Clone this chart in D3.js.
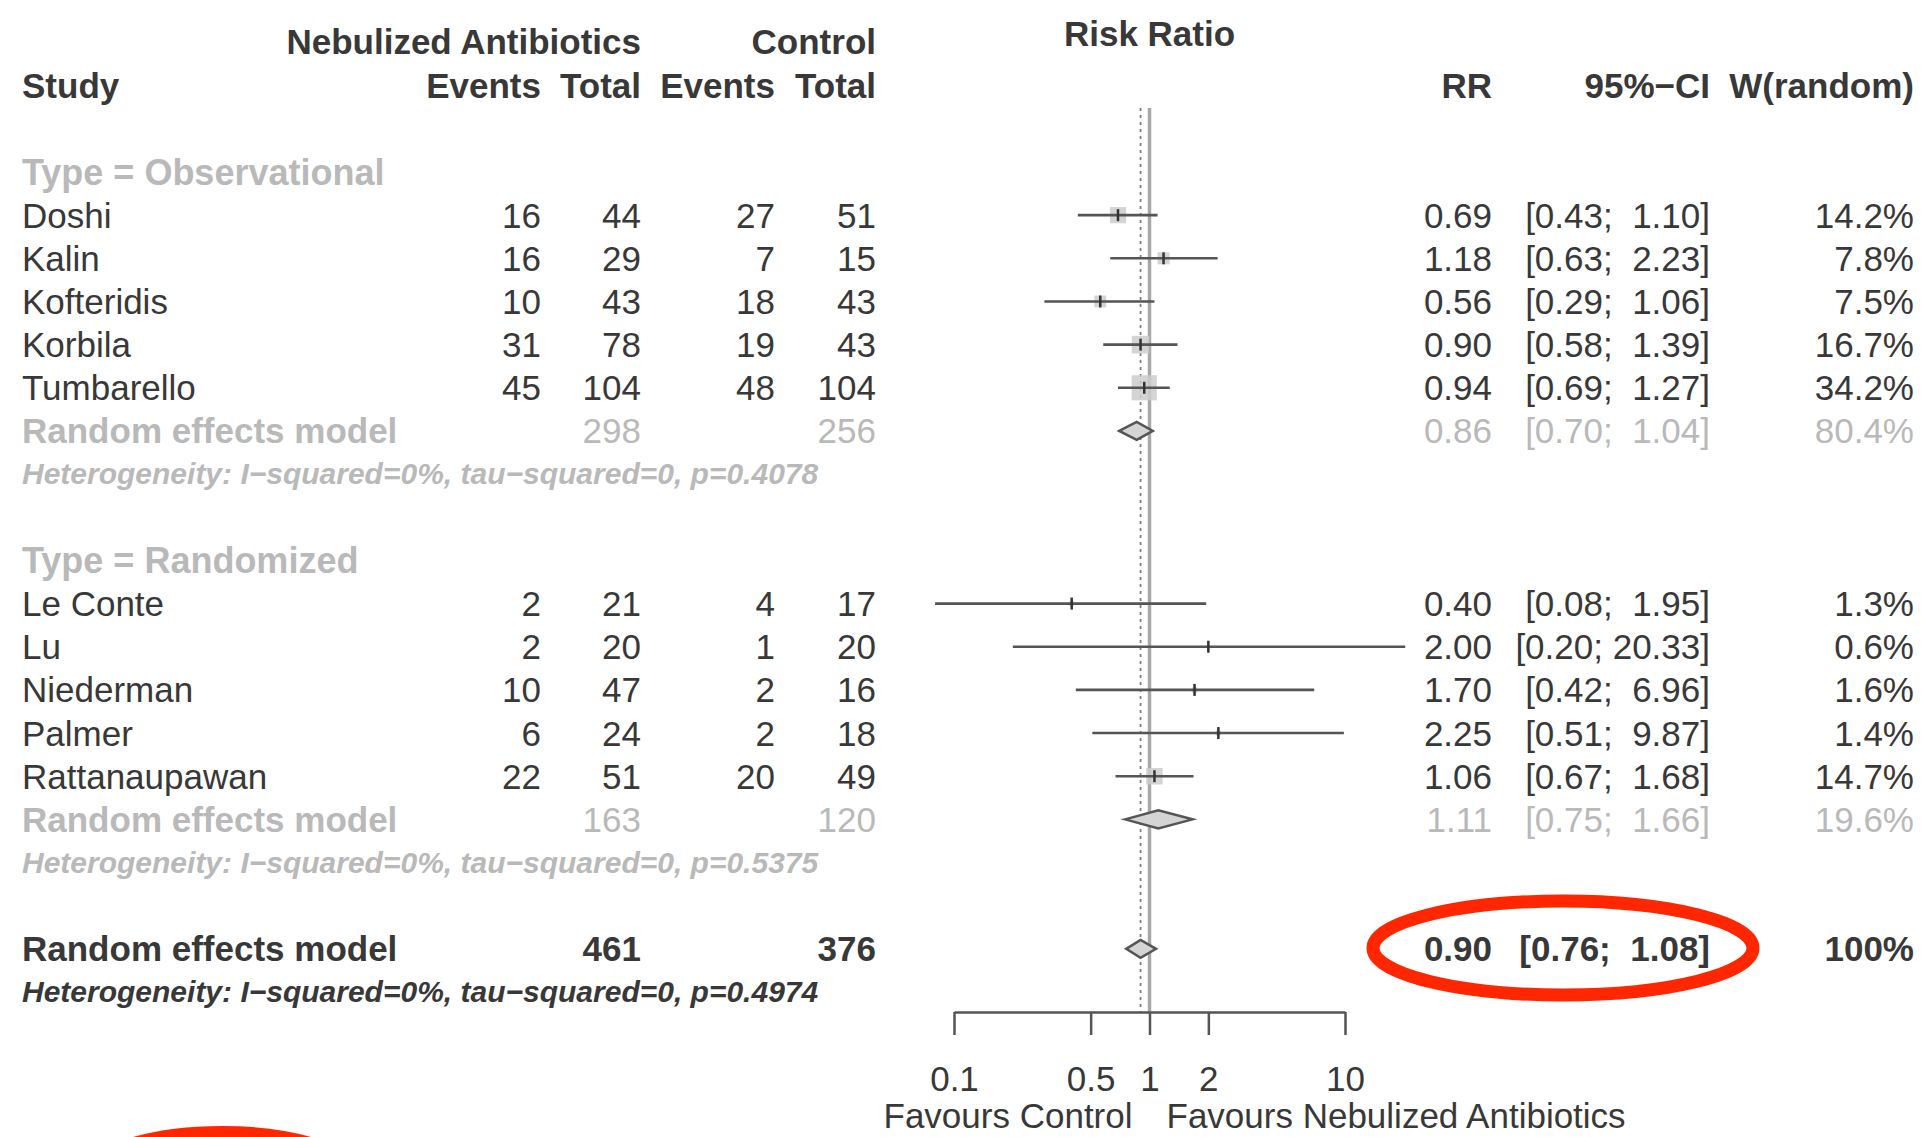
<!DOCTYPE html>
<html>
<head>
<meta charset="utf-8">
<script src="https://cdn.jsdelivr.net/npm/d3@7/dist/d3.min.js"></script>
<style>
  html, body { margin: 0; padding: 0; background: #fff; }
  svg { display: block; }
  text { font-family: "Liberation Sans", Arial, Helvetica, sans-serif; white-space: pre; }
</style>
</head>
<body>
<script>
// ---------------- data ----------------
const studies   = ["Doshi","Kalin","Kofteridis","Korbila","Tumbarello","Le Conte","Lu","Niederman","Palmer","Rattanaupawan"];
const studyType = ["Observational","Observational","Observational","Observational","Observational","Randomized","Randomized","Randomized","Randomized","Randomized"];
const eventsNeb = [16,16,10,31,45,2,2,10,6,22];
const totalNeb  = [44,29,43,78,104,21,20,47,24,51];
const eventsCtl = [27,7,18,19,48,4,1,2,2,20];
const totalCtl  = [51,15,43,43,104,17,20,16,18,49];
const rr        = [0.69,1.18,0.56,0.90,0.94,0.40,2.00,1.70,2.25,1.06];
const ciLow     = [0.43,0.63,0.29,0.58,0.69,0.08,0.20,0.42,0.51,0.67];
const ciHigh    = [1.10,2.23,1.06,1.39,1.27,1.95,20.33,6.96,9.87,1.68];
const weight    = [14.2,7.8,7.5,16.7,34.2,1.3,0.6,1.6,1.4,14.7];

const subgroups  = ["Observational","Randomized"];
const subTotNeb  = [298,163];
const subTotCtl  = [256,120];
const subRR      = [0.86,1.11];
const subLow     = [0.70,0.75];
const subHigh    = [1.04,1.66];
const subWeight  = [80.4,19.6];
const subHetP    = ["0.4078","0.5375"];

const overallTotNeb = 461, overallTotCtl = 376;
const overallRR = 0.90, overallLow = 0.76, overallHigh = 1.08, overallHetP = "0.4974";

const tickValues = [0.1,0.5,1,2,10];
const tickLabels = ["0.1","0.5","1","2","10"];

// ---------------- layout ----------------
const W = 1921, H = 1137;
const svg = d3.select("body").append("svg").attr("width", W).attr("height", H);

const FS = 35;
const dark = "#383838", light = "#b9b9b9";
const colX = { study: 22, evN: 541, totN: 641, evC: 775, totC: 876, rr: 1492, ci: 1710, w: 1914 };

const x = d3.scaleLog().domain([0.1, 10]).range([954, 1345]);
const y = d3.scaleLinear().domain([0, 19]).range([172, 992]);
const BL = 12.5; // baseline offset from row centre

const f2 = d3.format(".2f");
function ciText(lo, hi) {
  const a = f2(lo), b = f2(hi);
  return "[" + a + ";" + (b.length < 5 ? "  " : " ") + b + "]";
}
function pct(v) { return d3.format(".1f")(v) + "%"; }

function txt(xp, yp, s, opt = {}) {
  return svg.append("text")
    .attr("x", xp).attr("y", yp)
    .attr("text-anchor", opt.anchor || "start")
    .attr("font-size", opt.size || FS)
    .attr("font-weight", opt.bold ? "bold" : "normal")
    .attr("font-style", opt.italic ? "italic" : "normal")
    .attr("fill", opt.color || dark)
    .text(s);
}

// ---------------- headers ----------------
txt(colX.totN, 54, "Nebulized Antibiotics", { anchor: "end", bold: true });
txt(colX.totC, 54, "Control", { anchor: "end", bold: true });
txt(x(1), 46, "Risk Ratio", { anchor: "middle", bold: true });
txt(colX.study, 98, "Study", { bold: true });
txt(colX.evN, 98, "Events", { anchor: "end", bold: true });
txt(colX.totN, 98, "Total", { anchor: "end", bold: true });
txt(colX.evC, 98, "Events", { anchor: "end", bold: true });
txt(colX.totC, 98, "Total", { anchor: "end", bold: true });
txt(colX.rr, 98, "RR", { anchor: "end", bold: true });
txt(colX.ci, 98, "95%−CI", { anchor: "end", bold: true });
txt(colX.w, 98, "W(random)", { anchor: "end", bold: true });

// ---------------- reference lines ----------------
const plotTop = 108, axisY = 1012;
svg.append("line")
  .attr("x1", x(1)).attr("x2", x(1)).attr("y1", plotTop).attr("y2", axisY)
  .attr("stroke", "#a8a8a8").attr("stroke-width", 3.5);
svg.append("line")
  .attr("x1", x(overallRR)).attr("x2", x(overallRR)).attr("y1", plotTop).attr("y2", axisY)
  .attr("stroke", "#808080").attr("stroke-width", 1.8).attr("stroke-dasharray", "3,4");

// ---------------- rows ----------------
let row = 0;
subgroups.forEach((g, gi) => {
  txt(colX.study, y(row) + BL, "Type = " + g, { bold: true, color: light, size: 36 });
  row++;
  studies.forEach((s, i) => {
    if (studyType[i] !== g) return;
    const yc = y(row), yb = yc + BL;
    txt(colX.study, yb, s);
    txt(colX.evN, yb, eventsNeb[i], { anchor: "end" });
    txt(colX.totN, yb, totalNeb[i], { anchor: "end" });
    txt(colX.evC, yb, eventsCtl[i], { anchor: "end" });
    txt(colX.totC, yb, totalCtl[i], { anchor: "end" });
    txt(colX.rr, yb, f2(rr[i]), { anchor: "end" });
    txt(colX.ci, yb, ciText(ciLow[i], ciHigh[i]), { anchor: "end" });
    txt(colX.w, yb, pct(weight[i]), { anchor: "end" });

    const side = 4.3 * Math.sqrt(weight[i]);
    svg.append("rect")
      .attr("x", x(rr[i]) - side / 2).attr("y", yc - side / 2)
      .attr("width", side).attr("height", side)
      .attr("fill", "#cdcdcd").attr("opacity", 0.85);
    svg.append("line")
      .attr("x1", x(ciLow[i])).attr("x2", x(ciHigh[i])).attr("y1", yc).attr("y2", yc)
      .attr("stroke", "#555").attr("stroke-width", 2.6);
    svg.append("line")
      .attr("x1", x(rr[i])).attr("x2", x(rr[i])).attr("y1", yc - 6).attr("y2", yc + 6)
      .attr("stroke", "#333").attr("stroke-width", 2.5);
    row++;
  });
  // subgroup summary
  const yc = y(row), yb = yc + BL;
  txt(colX.study, yb, "Random effects model", { bold: true, color: light });
  txt(colX.totN, yb, subTotNeb[gi], { anchor: "end", color: light });
  txt(colX.totC, yb, subTotCtl[gi], { anchor: "end", color: light });
  txt(colX.rr, yb, f2(subRR[gi]), { anchor: "end", color: light });
  txt(colX.ci, yb, ciText(subLow[gi], subHigh[gi]), { anchor: "end", color: light });
  txt(colX.w, yb, pct(subWeight[gi]), { anchor: "end", color: light });
  diamond(subRR[gi], subLow[gi], subHigh[gi], yc);
  row++;
  txt(colX.study, y(row) + 10, "Heterogeneity: I−squared=0%, tau−squared=0, p=" + subHetP[gi],
      { bold: true, italic: true, size: 30, color: light });
  row += 2;
});

// overall
{
  const yc = y(row), yb = yc + BL;
  txt(colX.study, yb, "Random effects model", { bold: true });
  txt(colX.totN, yb, overallTotNeb, { anchor: "end", bold: true });
  txt(colX.totC, yb, overallTotCtl, { anchor: "end", bold: true });
  txt(colX.rr, yb, f2(overallRR), { anchor: "end", bold: true });
  txt(colX.ci, yb, ciText(overallLow, overallHigh), { anchor: "end", bold: true });
  txt(colX.w, yb, "100%", { anchor: "end", bold: true });
  diamond(overallRR, overallLow, overallHigh, yc);
  row++;
  txt(colX.study, y(row) + 10, "Heterogeneity: I−squared=0%, tau−squared=0, p=" + overallHetP,
      { bold: true, italic: true, size: 30 });
}

function diamond(est, lo, hi, yc) {
  const h = 9;
  const pts = [[x(lo), yc], [x(est), yc - h], [x(hi), yc], [x(est), yc + h]];
  svg.append("path")
    .attr("d", d3.line()(pts) + "Z")
    .attr("fill", "#d4d4d4").attr("stroke", "#555").attr("stroke-width", 2.5);
}

// ---------------- axis ----------------
const axis = d3.axisBottom(x)
  .tickValues(tickValues)
  .tickFormat((d, i) => tickLabels[i])
  .tickSize(23).tickSizeOuter(0).tickPadding(31);
const ag = svg.append("g").attr("transform", `translate(0,${axisY})`).call(axis);
ag.select(".domain").attr("stroke", "#555").attr("stroke-width", 2.5);
ag.selectAll(".tick line").attr("stroke", "#555").attr("stroke-width", 2.5);
ag.selectAll(".tick text")
  .attr("font-size", FS).attr("fill", dark)
  .attr("font-family", "\"Liberation Sans\", Arial, sans-serif");

txt(x(1) - 17, 1128, "Favours Control", { anchor: "end" });
txt(x(1) + 17, 1128, "Favours Nebulized Antibiotics", { anchor: "start" });

// ---------------- red annotation ellipses ----------------
svg.append("ellipse")
  .attr("cx", 1563).attr("cy", 948).attr("rx", 190).attr("ry", 47)
  .attr("fill", "none").attr("stroke", "#ff2600").attr("stroke-width", 13);
svg.append("ellipse")
  .attr("cx", 222).attr("cy", 1190).attr("rx", 150).attr("ry", 58)
  .attr("fill", "none").attr("stroke", "#ff2600").attr("stroke-width", 12);
</script>
</body>
</html>
